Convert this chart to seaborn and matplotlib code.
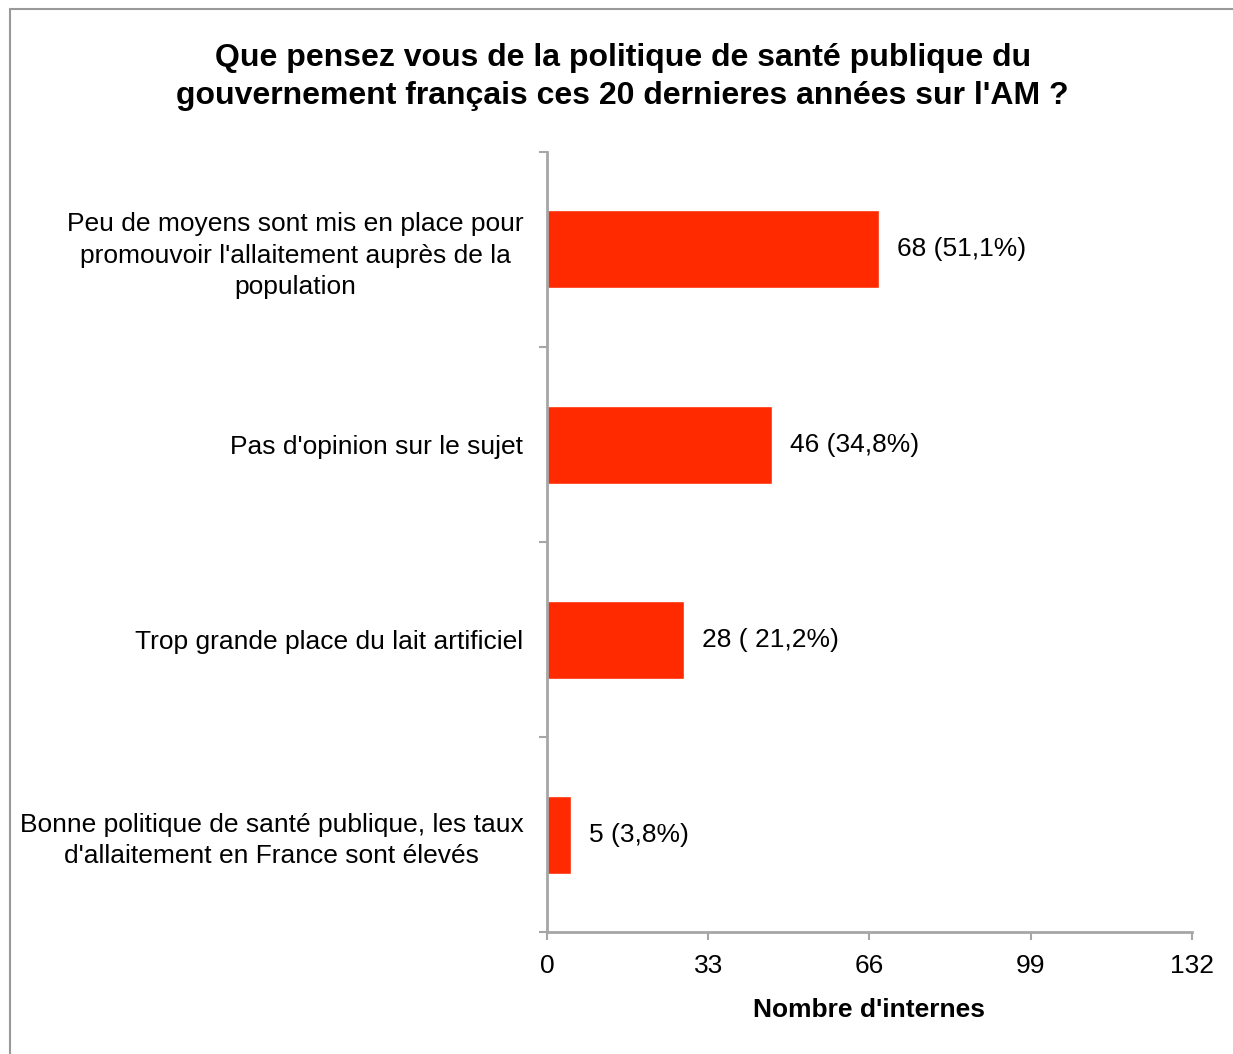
import matplotlib
matplotlib.use("Agg")
import matplotlib.pyplot as plt
from matplotlib.lines import Line2D
import pandas as pd
import seaborn as sns

categories = [
    "Peu de moyens sont mis en place pour\npromouvoir l'allaitement auprès de la\npopulation",
    "Pas d'opinion sur le sujet",
    "Trop grande place du lait artificiel",
    "Bonne politique de santé publique, les taux\nd'allaitement en France sont élevés",
]
counts = [68, 46, 28, 5]
bar_labels = ["68 (51,1%)", "46 (34,8%)", "28 ( 21,2%)", "5 (3,8%)"]
x_ticks = [0, 33, 66, 99, 132]

df = pd.DataFrame({"categorie": categories, "n": counts})

sns.set_style("white", {"xtick.bottom": True, "ytick.left": True,
                        "text.color": "black", "xtick.color": "black",
                        "ytick.color": "black", "axes.labelcolor": "black"})
plt.rcParams["font.family"] = ["Liberation Sans", "DejaVu Sans"]

fig = plt.figure(figsize=(12.33, 10.54), dpi=100)
ax = fig.add_axes([0.4436, 0.1157, 0.5231, 0.7401])

sns.barplot(data=df, x="n", y="categorie", orient="h", color="#FF2A00",
            width=0.4, saturation=1, ax=ax)

for i, (v, lab) in enumerate(zip(counts, bar_labels)):
    ax.text(v + 3.7, i, lab, va="center", ha="left", fontsize=19, color="black")

ax.set_xlim(0, 132)
ax.set_ylim(len(categories) - 0.5, -0.5)
ax.set_xticks(x_ticks)
ax.set_xticklabels([str(t) for t in x_ticks], fontsize=19)

# category labels sit between boundary ticks
ax.set_yticks([i - 0.5 for i in range(len(categories) + 1)])
ax.set_yticklabels([])
ax.set_yticks(range(len(categories)), minor=True)
ax.set_yticklabels(categories, minor=True, fontsize=19, multialignment="center",
                   linespacing=1.38)
ax.tick_params(axis="y", which="minor", length=0, pad=17, labelcolor="black")
ax.tick_params(axis="y", which="major", length=6, width=1.5, color="#A6A6A6",
               direction="out", left=True)
ax.tick_params(axis="x", length=6, width=1.5, color="#A6A6A6", direction="out",
               pad=10, bottom=True, labelcolor="black")

for s in ["top", "right"]:
    ax.spines[s].set_visible(False)
for s in ["left", "bottom"]:
    ax.spines[s].set_color("#A6A6A6")
    ax.spines[s].set_linewidth(2)

ax.set_ylabel("")
ax.set_xlabel("Nombre d'internes", fontsize=19, fontweight="bold", labelpad=14,
              color="black")

fig.text(0.505, 0.927, "Que pensez vous de la politique de santé publique du\n"
         "gouvernement français ces 20 dernieres années sur l'AM ?",
         ha="center", va="center", fontsize=23, fontweight="bold",
         linespacing=1.32, color="black")

# chart border (top and left edges)
fig.add_artist(Line2D([0.0081, 1.0], [0.9915, 0.9915], color="#999999", lw=1.5))
fig.add_artist(Line2D([0.0081, 0.0081], [0.0, 0.9915], color="#999999", lw=1.5))

fig.savefig("out.png", dpi=100)
